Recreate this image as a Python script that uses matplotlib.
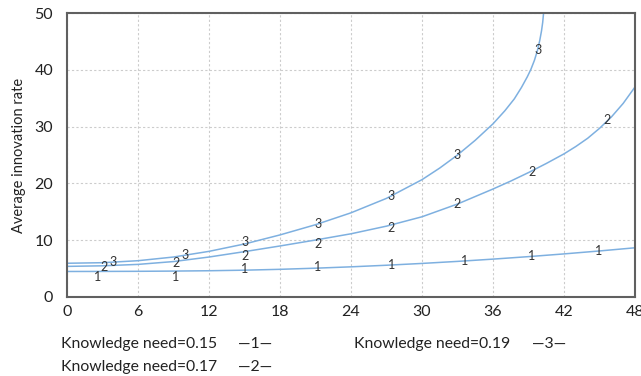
import numpy as np
import matplotlib
matplotlib.use("Agg")
import matplotlib.pyplot as plt

# time axis (months) and simulated average innovation rate for each knowledge need
t = [0, 3, 6, 9, 12, 15, 18, 21, 24, 27, 30, 33, 36, 39, 42, 45, 48]
rate_015 = [4.45, 4.46, 4.48, 4.52, 4.58, 4.68, 4.83, 5.03, 5.27, 5.55, 5.87, 6.23, 6.63, 7.07, 7.55, 8.07, 8.63]

t_017 = [0, 3, 6, 9, 12, 15, 18, 21, 24, 27, 30, 33, 36, 37.5, 39, 40.5, 42, 43, 44, 45, 46, 47, 48]
rate_017 = [5.35, 5.45, 5.7, 6.2, 7.0, 7.95, 8.95, 10.0, 11.1, 12.45, 14.1, 16.35, 19.0, 20.4, 21.9,
            23.5, 25.2, 26.5, 27.95, 29.7, 31.7, 34.1, 37.0]

t_019 = [0, 3, 6, 9, 12, 15, 18, 21, 24, 27, 30, 31.5, 33, 34.5, 36, 37, 37.8, 38.4, 38.9, 39.2,
         39.5, 39.75, 39.95, 40.1, 40.2, 40.28]
rate_019 = [5.9, 6.0, 6.35, 7.0, 8.0, 9.3, 10.9, 12.7, 14.8, 17.35, 20.65, 22.7, 25.0, 27.6, 30.5,
            32.8, 34.9, 36.9, 38.8, 40.1, 41.7, 43.4, 45.2, 46.9, 48.4, 50.2]

names = ["Knowledge need=0.15", "Knowledge need=0.17", "Knowledge need=0.19"]
# where the run number is stamped along each curve, with a vertical nudge in points
marker_t = [
    [2.6, 9.2, 15.05, 21.2, 27.4, 33.6, 39.3, 44.9],
    [3.15, 9.2, 15.05, 21.2, 27.4, 33.0, 39.3, 45.6],
    [3.86, 9.97, 15.05, 21.2, 27.4, 33.0, 39.8],
]
marker_dy = [
    [-4, -4, 1, 1, 0, 0, 0, 0],
    [-1, -1, -3, -3, -2, 0, -1, 1],
    [0, 0, 1, 0, 0, 0, -1],
]

font = ["Lato", "DejaVu Sans"]
plt.rcParams["font.family"] = font

fig = plt.figure(figsize=(6.41, 3.76), dpi=100)
ax = fig.add_axes([67 / 641, 79.3 / 376, 568 / 641, 283.4 / 376])

series = [(t, rate_015), (t_017, rate_017), (t_019, rate_019)]
line_color = "#7eb0e0"
for i, (xs, ys) in enumerate(series):
    ax.plot(xs, ys, color=line_color, lw=1.1, clip_on=True)
    for mt, dy in zip(marker_t[i], marker_dy[i]):
        my = np.interp(mt, xs, ys)
        ax.annotate(str(i + 1), (mt, my), xytext=(0, dy), textcoords="offset points",
                    ha="center", va="center", fontsize=9, color="#333333")

ax.set_xlim(0, 48)
ax.set_ylim(0, 50)
ax.set_xticks(range(0, 49, 6))
ax.set_yticks(range(0, 51, 10))
ax.tick_params(length=0, labelsize=11.5, colors="#222222")
ax.tick_params(axis="x", pad=6)
ax.tick_params(axis="y", pad=10)
ax.grid(True, color="#cccccc", ls=(0, (2, 2)), lw=0.8)
for s in ax.spines.values():
    s.set_color("#606060")
    s.set_linewidth(1.5)
ax.set_ylabel("Average innovation rate", fontsize=10.5, labelpad=6, color="#222222")

# legend rows underneath the plot
fs = 11.3
fig.text(61 / 641, 1 - 344 / 376, names[0], fontsize=fs, va="center", color="#222222")
fig.text(238 / 641, 1 - 344 / 376, "\u20141\u2014", fontsize=fs, va="center", color="#222222")
fig.text(61 / 641, 1 - 366.7 / 376, names[1], fontsize=fs, va="center", color="#222222")
fig.text(238 / 641, 1 - 366.7 / 376, "\u20142\u2014", fontsize=fs, va="center", color="#222222")
fig.text(354 / 641, 1 - 344 / 376, names[2], fontsize=fs, va="center", color="#222222")
fig.text(532 / 641, 1 - 344 / 376, "\u20143\u2014", fontsize=fs, va="center", color="#222222")

fig.savefig("out.png", dpi=100)
